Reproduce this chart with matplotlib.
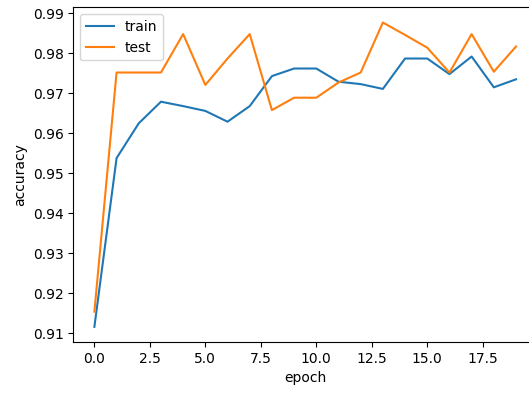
import matplotlib
matplotlib.use("Agg")
import matplotlib.pyplot as plt

epochs = list(range(20))
train_acc = [0.9116, 0.9538, 0.9625, 0.9679, 0.9668, 0.9656, 0.9629, 0.9668, 0.9743, 0.9762,
             0.9762, 0.9729, 0.9723, 0.9711, 0.9787, 0.9787, 0.9748, 0.9792, 0.9715, 0.9735]
test_acc = [0.9154, 0.9752, 0.9752, 0.9752, 0.9848, 0.9721, 0.9787, 0.9848, 0.9658, 0.9689,
            0.9689, 0.9727, 0.9752, 0.9877, 0.9846, 0.9814, 0.9752, 0.9848, 0.9754, 0.9817]

fig = plt.figure(figsize=(5.29, 3.96), dpi=100)
ax = fig.add_axes([73.3 / 529, 53.9 / 396, 463.8 / 529, 334.8 / 396])
ax.plot(epochs, train_acc, label="train")
ax.plot(epochs, test_acc, label="test")
ax.set_xlabel("epoch")
ax.set_ylabel("accuracy")
ax.legend(loc="upper left")
fig.savefig("out.png", dpi=100)
